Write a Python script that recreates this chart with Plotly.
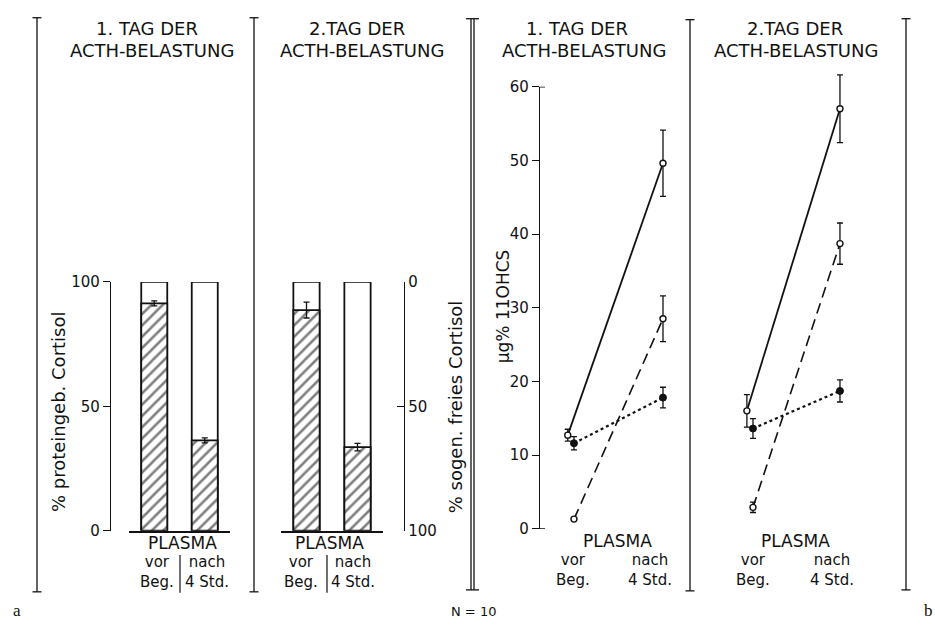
import plotly.graph_objects as go

W, H = 935, 629


def px(x):
    return x / W


def py(y):
    return 1 - y / H


# ---------------- data ----------------
bar_positions = [0, 1]                  # vor Beg., nach 4 Std.
bar_total = [100, 100]
bound_day1 = [91.4, 36.3]               # % proteingeb. Cortisol, 1. Tag
bound_day1_err = [1.0, 1.0]
bound_day2 = [88.7, 33.6]               # % proteingeb. Cortisol, 2. Tag
bound_day2_err = [3.2, 1.5]

time_points = [0, 1]                    # vor Beg., nach 4 Std.
solid_day1 = [12.7, 49.6]
solid_day1_err = [0.8, 4.5]
dashed_day1 = [1.3, 28.5]
dashed_day1_err = [0.0, 3.1]
dotted_day1 = [11.6, 17.8]
dotted_day1_err = [0.9, 1.4]

solid_day2 = [16.0, 57.0]
solid_day2_err = [2.2, 4.6]
dashed_day2 = [2.9, 38.7]
dashed_day2_err = [0.7, 2.8]
dotted_day2 = [13.6, 18.7]
dotted_day2_err = [1.35, 1.5]

left_ticks = [0, 50, 100]
right_ticks = [0, 50, 100]
right_ticktext = ["100", "50", "0"]
hcs_ticks = [0, 10, 20, 30, 40, 50, 60]

# style: small horizontal offset of the solid series at "vor"
solid_offset = [-0.07, 0.0]

FONT = "DejaVu Sans"
BLACK = "#111111"

fig = go.Figure()

# ---------------- bars ----------------
def add_bars(xa, ya, bound, err):
    fig.add_trace(go.Bar(
        x=bar_positions, y=bar_total, width=0.515, xaxis=xa, yaxis=ya,
        marker=dict(color="white", line=dict(color=BLACK, width=1.8)),
        hoverinfo="skip"))
    fig.add_trace(go.Bar(
        x=bar_positions, y=bound, width=0.515, xaxis=xa, yaxis=ya,
        marker=dict(color="white", line=dict(color=BLACK, width=1.8),
                    pattern=dict(shape="/", fgcolor="#000000", bgcolor="white",
                                 size=8, solidity=0.32)),
        error_y=dict(type="data", array=err, color=BLACK, thickness=1.3, width=3)))


add_bars("x", "y", bound_day1, bound_day1_err)
add_bars("x2", "y2", bound_day2, bound_day2_err)

# ---------------- lines ----------------
def add_lines(xa, ya, solid, solid_err, dashed, dashed_err, dotted, dotted_err):
    xs = [t + o for t, o in zip(time_points, solid_offset)]
    fig.add_trace(go.Scatter(
        x=xs, y=solid, xaxis=xa, yaxis=ya, mode="lines+markers",
        line=dict(color=BLACK, width=1.8),
        marker=dict(symbol="circle", size=6, color="white", line=dict(color=BLACK, width=1.4)),
        error_y=dict(type="data", array=solid_err, color=BLACK, thickness=1.3, width=3),
        cliponaxis=False))
    fig.add_trace(go.Scatter(
        x=time_points, y=dashed, xaxis=xa, yaxis=ya, mode="lines+markers",
        line=dict(color=BLACK, width=1.6, dash="11px,6px"),
        marker=dict(symbol="circle", size=6, color="white", line=dict(color=BLACK, width=1.4)),
        error_y=dict(type="data", array=dashed_err, color=BLACK, thickness=1.3, width=3),
        cliponaxis=False))
    fig.add_trace(go.Scatter(
        x=time_points, y=dotted, xaxis=xa, yaxis=ya, mode="lines+markers",
        line=dict(color=BLACK, width=2.2, dash="dot"),
        marker=dict(symbol="circle", size=7, color=BLACK, line=dict(color=BLACK, width=1)),
        error_y=dict(type="data", array=dotted_err, color=BLACK, thickness=1.3, width=3),
        cliponaxis=False))


add_lines("x3", "y3", solid_day1, solid_day1_err, dashed_day1, dashed_day1_err,
          dotted_day1, dotted_day1_err)
add_lines("x4", "y4", solid_day2, solid_day2_err, dashed_day2, dashed_day2_err,
          dotted_day2, dotted_day2_err)

# ---------------- axes ----------------
tickfont = dict(family=FONT, size=15, color=BLACK)
bar_ydom = [py(537), py(281)]
px_per_unit = (535 - 80) / 60.0

layout = dict(
    width=W, height=H, margin=dict(l=0, r=0, t=0, b=0),
    paper_bgcolor="white", plot_bgcolor="rgba(0,0,0,0)",
    showlegend=False, barmode="overlay",
    font=dict(family=FONT, color=BLACK),
    xaxis=dict(domain=[px(129), px(230)], range=[-0.5, 1.5], anchor="y",
               showline=True, linecolor=BLACK, linewidth=1.8, showgrid=False,
               zeroline=False, showticklabels=False, ticks="", fixedrange=True),
    yaxis=dict(domain=bar_ydom, range=[0, 100], anchor="free", position=px(110),
               showline=True, linecolor=BLACK, linewidth=1.4, ticks="outside",
               ticklen=7, tickwidth=1.4, tickcolor=BLACK, tickvals=left_ticks,
               tickfont=tickfont, showgrid=False, zeroline=False),
    xaxis2=dict(domain=[px(281), px(383)], range=[-0.5, 1.5], anchor="y2",
                showline=True, linecolor=BLACK, linewidth=1.8, showgrid=False,
                zeroline=False, showticklabels=False, ticks=""),
    yaxis2=dict(domain=bar_ydom, range=[0, 100], anchor="free", position=px(404),
                side="right", showline=True, linecolor=BLACK, linewidth=1.4,
                ticks="inside", ticklen=7, tickwidth=1.4, tickcolor=BLACK,
                tickvals=right_ticks, ticktext=right_ticktext, tickfont=tickfont,
                showgrid=False, zeroline=False),
    xaxis3=dict(domain=[px(539), px(688)], range=[-0.393, 1.281], anchor="y3",
                visible=False),
    yaxis3=dict(domain=[py(535), py(80)], range=[0, 60], anchor="free",
                position=px(539), showline=True, linecolor=BLACK, linewidth=1.4,
                ticks="outside", ticklen=7, tickwidth=1.4, tickcolor=BLACK,
                tickvals=hcs_ticks, tickfont=tickfont, showgrid=False, zeroline=False),
    xaxis4=dict(domain=[px(700), px(900)], range=[-0.609, 1.690], anchor="y4",
                visible=False),
    yaxis4=dict(domain=[py(535), py(535 - 65 * px_per_unit)], range=[0, 65],
                anchor="x4", visible=False),
)
fig.update_layout(**layout)

# ---------------- frame lines ----------------
shapes = []


def vline(x, y0, y1, cap=4.5, w=1.3):
    shapes.append(dict(type="line", xref="paper", yref="paper", x0=px(x), x1=px(x),
                       y0=py(y0), y1=py(y1), line=dict(color=BLACK, width=w)))
    for yy in (y0, y1):
        shapes.append(dict(type="line", xref="paper", yref="paper", x0=px(x - cap),
                           x1=px(x + cap), y0=py(yy), y1=py(yy),
                           line=dict(color=BLACK, width=w)))


vline(37, 9, 600)
vline(254, 9, 600)
vline(471, 10, 598, cap=0)
vline(474, 10, 598, cap=0)
shapes.append(dict(type="line", xref="paper", yref="paper", x0=px(466), x1=px(479),
                   y0=py(10), y1=py(10), line=dict(color=BLACK, width=1.3)))
shapes.append(dict(type="line", xref="paper", yref="paper", x0=px(466), x1=px(479),
                   y0=py(598), y1=py(598), line=dict(color=BLACK, width=1.3)))
vline(690, 11, 599)
vline(906, 10, 598)

# dividers between "vor Beg." and "nach 4 Std."
for x in (180, 327):
    shapes.append(dict(type="line", xref="paper", yref="paper", x0=px(x), x1=px(x),
                       y0=py(562), y1=py(601), line=dict(color=BLACK, width=1.2)))

# right-going end ticks on the 11OHCS axis
for v in (0, 60):
    shapes.append(dict(type="line", xref="paper", yref="y3", x0=px(539), x1=px(545),
                       y0=v, y1=v, line=dict(color=BLACK, width=1.4)))

fig.update_layout(shapes=shapes)

# ---------------- text ----------------
ann = []


def text(s, x, y, size=15, angle=0, family=FONT, anchor="center"):
    ann.append(dict(text=s, x=px(x), y=py(y), xref="paper", yref="paper",
                    showarrow=False, xanchor=anchor, yanchor="middle", borderpad=0,
                    textangle=angle, font=dict(family=family, size=size, color=BLACK)))


# titles
for (x1, x2, t1) in [(147, 152, "1. TAG DER"), (357, 362, "2.TAG DER"),
                     (577, 584, "1. TAG DER"), (795, 796, "2.TAG DER")]:
    text(t1, x1, 20, size=18)
    text("ACTH-BELASTUNG", x2, 43, size=18)

# bottom category labels
for (xp, xv, xn, yp, yv) in [
        (182, 157, 207, 550, 580),
        (329, 301, 353, 550, 580),
        (617, 573, 650, 548, 578),
        (795, 753, 832, 548, 578)]:
    text("PLASMA", xp, yp, size=17)
    text("vor<br>Beg.", xv, yv, size=15)
    text("nach<br>4 Std.", xn, yv, size=15)

# axis titles
text("% proteingeb. Cortisol", 58, 415, size=18, angle=-90)
text("% sogen. freies Cortisol", 455, 410, size=18, angle=-90)
text("µg% 11OHCS", 503, 306, size=17, angle=-90)

# panel letters
text("a", 17, 619, size=17, family="Liberation Serif")
text("b", 928, 619, size=17, family="Liberation Serif")
text("N = 10", 473, 620, size=13)

fig.update_layout(annotations=ann)

fig.write_html("out.html", post_script="document.body.style.margin='0px';",
               config={"displayModeBar": False})
